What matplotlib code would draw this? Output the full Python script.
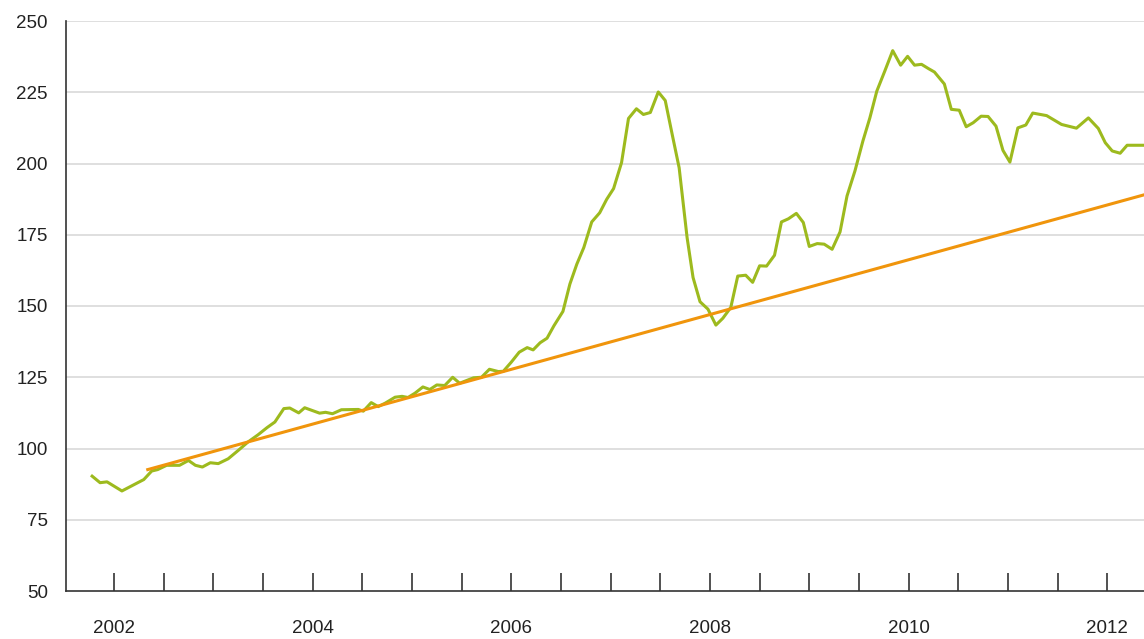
"""Price index vs. long-run trend, 2001-2012."""
import matplotlib
matplotlib.use("Agg")
import matplotlib.pyplot as plt
import numpy as np

matplotlib.rcParams["font.family"] = ["Liberation Sans", "DejaVu Sans"]

# index (decimal year, value)
years = [
    2001.78, 2001.86, 2001.93, 2002.08, 2002.30, 2002.38, 2002.44, 2002.53,
    2002.66, 2002.75, 2002.82, 2002.89, 2002.97, 2003.05, 2003.15, 2003.25,
    2003.35, 2003.45, 2003.54, 2003.62, 2003.71, 2003.77, 2003.86, 2003.92,
    2004.07, 2004.13, 2004.20, 2004.29, 2004.46, 2004.51, 2004.59, 2004.66,
    2004.73, 2004.83, 2004.90, 2004.96, 2005.03, 2005.11, 2005.18, 2005.25,
    2005.33, 2005.41, 2005.48, 2005.62, 2005.70, 2005.78, 2005.87, 2005.92,
    2006.00, 2006.08, 2006.16, 2006.22, 2006.29, 2006.36, 2006.43, 2006.52,
    2006.59, 2006.66, 2006.73, 2006.81, 2006.89, 2006.96, 2007.03, 2007.11,
    2007.18, 2007.26, 2007.33, 2007.40, 2007.48, 2007.55, 2007.62, 2007.69,
    2007.77, 2007.83, 2007.90, 2007.98, 2008.06, 2008.13, 2008.21, 2008.28,
    2008.36, 2008.43, 2008.50, 2008.57, 2008.65, 2008.72, 2008.79, 2008.87,
    2008.94, 2009.00, 2009.08, 2009.15, 2009.23, 2009.31, 2009.38, 2009.46,
    2009.54, 2009.61, 2009.68, 2009.76, 2009.84, 2009.92, 2009.99, 2010.06,
    2010.13, 2010.20, 2010.26, 2010.36, 2010.43, 2010.51, 2010.58, 2010.65,
    2010.73, 2010.80, 2010.88, 2010.95, 2011.02, 2011.10, 2011.18, 2011.25,
    2011.39, 2011.54, 2011.69, 2011.81, 2011.91, 2011.98, 2012.05, 2012.13,
    2012.20, 2012.36,
]
index_values = [
    90.3, 88.0, 88.3, 85.1, 89.1, 92.1, 92.6, 94.1,
    94.1, 95.8, 94.1, 93.5, 95.0, 94.7, 96.4, 99.3,
    102.3, 104.8, 107.3, 109.3, 114.0, 114.2, 112.5, 114.3,
    112.4, 112.7, 112.2, 113.6, 113.7, 113.1, 116.1, 114.7,
    115.9, 118.0, 118.3, 117.9, 119.4, 121.6, 120.7, 122.3,
    122.1, 125.0, 122.9, 124.8, 125.0, 127.8, 127.0, 127.1,
    130.3, 133.8, 135.4, 134.6, 137.1, 138.7, 143.1, 148.1,
    157.7, 164.7, 170.5, 179.5, 182.7, 187.4, 191.2, 200.3,
    215.8, 219.2, 217.2, 217.9, 225.1, 222.1, 210.2, 198.5,
    174.0, 160.0, 151.5, 148.9, 143.3, 145.7, 149.5, 160.5,
    160.8, 158.3, 164.1, 164.0, 167.8, 179.5, 180.6, 182.5,
    179.3, 170.9, 171.9, 171.7, 169.9, 176.0, 188.6, 197.4,
    207.9, 216.0, 225.4, 232.4, 239.6, 234.5, 237.6, 234.5,
    234.8, 233.3, 232.1, 227.9, 219.0, 218.7, 212.9, 214.3,
    216.6, 216.5, 213.1, 204.6, 200.5, 212.5, 213.5, 217.7,
    216.8, 213.7, 212.4, 216.0, 212.3, 207.3, 204.4, 203.6,
    206.4, 206.4,
]

# trend line endpoints
trend_years = [2002.34, 2012.37]
trend_values = [92.6, 189.0]

y_ticks = [50, 75, 100, 125, 150, 175, 200, 225, 250]
label_years = [2002, 2004, 2006, 2008, 2010, 2012]


def main() -> None:
    fig = plt.figure(figsize=(11.44, 6.39), dpi=100)
    ax = fig.add_axes([66 / 1144, 48 / 639, 1 - 66 / 1144, (591 - 21) / 639])

    ax.plot(years, index_values, color="#9dba1e", linewidth=2.2, zorder=3)
    ax.plot(trend_years, trend_values, color="#f0950c", linewidth=2.2, zorder=4)

    ax.set_xlim(2001.517, 2012.37)
    ax.set_ylim(50, 250)

    for v in y_ticks[1:]:
        ax.axhline(v, color="#d9d9d9", linewidth=1.2, zorder=1)

    ax.set_yticks(y_ticks)
    ax.tick_params(axis="y", length=0, pad=13, labelsize=13.5, colors="#222222")

    half_years = np.arange(2002.0, 2012.01, 0.5)
    ax.set_xticks(half_years)
    ax.set_xticklabels([str(int(t)) if t in label_years else "" for t in half_years])
    ax.tick_params(axis="x", direction="in", length=13, width=1.1, pad=21,
                   labelsize=13.5, colors="#222222")

    for side in ("top", "right"):
        ax.spines[side].set_visible(False)
    for side in ("left", "bottom"):
        ax.spines[side].set_color("#333333")
        ax.spines[side].set_linewidth(1.2)

    fig.savefig("out.png", dpi=100)
    plt.close(fig)


if __name__ == "__main__":
    main()
